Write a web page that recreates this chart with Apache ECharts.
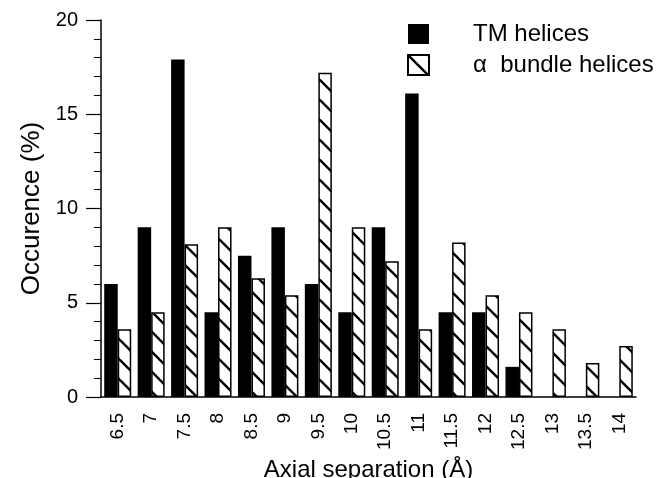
<!DOCTYPE html>
<html>
<head>
<meta charset="utf-8">
<script src="https://cdn.jsdelivr.net/npm/echarts@6/dist/echarts.min.js"></script>
<style>
html, body { margin: 0; padding: 0; background: #fff; }
#main { width: 657px; height: 478px; }
</style>
</head>
<body>
<div id="main"></div>
<script>
var categories = ['6.5', '7', '7.5', '8', '8.5', '9', '9.5', '10', '10.5', '11', '11.5', '12', '12.5', '13', '13.5', '14'];
var tmValues = [6.0, 9.0, 17.9, 4.5, 7.5, 9.0, 6.0, 4.5, 9.0, 16.1, 4.5, 4.5, 1.6, 0, 0, 0];
var bundleValues = [3.6, 4.5, 8.1, 9.0, 6.3, 5.4, 17.2, 9.0, 7.2, 3.6, 8.2, 5.4, 4.5, 3.6, 1.8, 2.7];
var seriesNames = ['TM helices', 'α  bundle helices'];

// hatch tile "\" for the bundle bars
function makeHatch() {
	var size = 20;
	var c = document.createElement('canvas');
	c.width = size;
	c.height = size;
	var ctx = c.getContext('2d');
	ctx.fillStyle = '#fff';
	ctx.fillRect(0, 0, size, size);
	ctx.strokeStyle = '#000';
	ctx.lineWidth = 2.4;
	[-size, 0, size].forEach(function (off) {
		ctx.beginPath();
		ctx.moveTo(off - 2, -2);
		ctx.lineTo(off + size + 2, size + 2);
		ctx.stroke();
	});
	return c;
}

var font = 'Liberation Sans, Arial, Helvetica, sans-serif';
var chart = echarts.init(document.getElementById('main'));
chart.setOption({
	animation: false,
	textStyle: { fontFamily: font, color: '#000' },
	grid: { left: 101, right: 21, top: 20, bottom: 81, outerBoundsMode: 'none', containLabel: false },
	legend: {
		orient: 'vertical',
		left: 407,
		top: 22,
		padding: 0,
		itemWidth: 21,
		itemHeight: 20,
		itemGap: 7,
		data: [
			{ name: seriesNames[0], icon: 'rect' },
			{ name: seriesNames[1], icon: 'rect' }
		],
		textStyle: { fontSize: 24, color: '#000', fontFamily: font, padding: [0, 0, 4, 39] }
	},
	xAxis: {
		type: 'category',
		data: categories,
		name: 'Axial separation (Å)',
		nameLocation: 'middle',
		nameGap: 57,
		nameTextStyle: { fontSize: 24, color: '#000' },
		axisLine: { lineStyle: { color: '#000', width: 1.5 } },
		axisTick: { length: 15, lineStyle: { color: '#000', width: 1.2 } },
		axisLabel: { interval: 0, rotate: 90, margin: 16, fontSize: 19, color: '#000' },
		splitLine: { show: false }
	},
	yAxis: {
		type: 'value',
		min: 0,
		max: 20,
		interval: 5,
		name: 'Occurence (%)',
		nameLocation: 'middle',
		nameGap: 53,
		nameTextStyle: { fontSize: 26, color: '#000' },
		axisLine: { show: true, lineStyle: { color: '#000', width: 1.5 } },
		axisTick: { show: true, length: 15, lineStyle: { color: '#000', width: 1.2 } },
		minorTick: { show: true, splitNumber: 5, length: 7, lineStyle: { color: '#000', width: 1 } },
		axisLabel: { margin: 23, fontSize: 20, color: '#000' },
		splitLine: { show: false }
	},
	series: [{
		name: seriesNames[0],
		type: 'bar',
		data: tmValues,
		barWidth: 13.5,
		barGap: '0%',
		itemStyle: { color: '#000' }
	}, {
		name: seriesNames[1],
		type: 'bar',
		data: bundleValues,
		barWidth: 13.5,
		barGap: '0%',
		itemStyle: {
			color: { image: makeHatch(), repeat: 'repeat' },
			borderColor: '#000',
			borderWidth: 1.5
		}
	}]
});
</script>
</body>
</html>
